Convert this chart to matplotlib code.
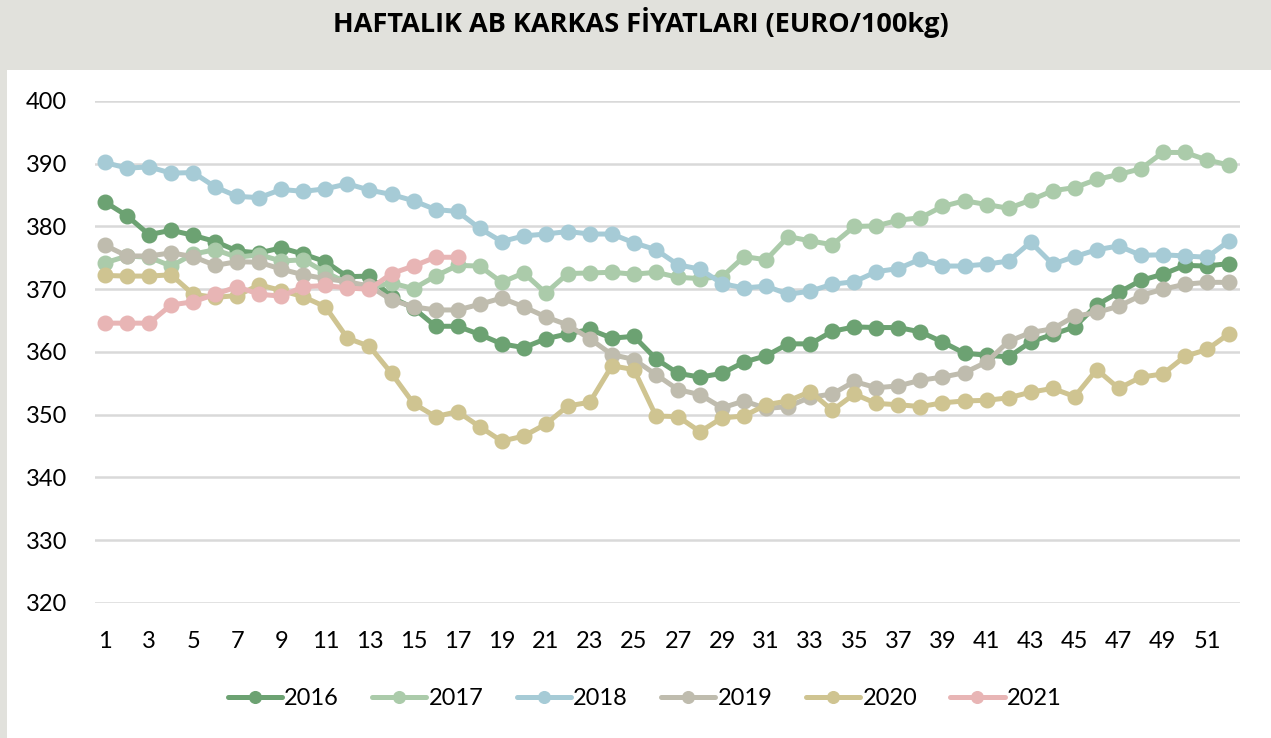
import matplotlib.pyplot as plt
from matplotlib.patches import Rectangle

weeks = list(range(1, 53))

y2016 = [383.9, 381.7, 378.7, 379.4, 378.6, 377.6, 376.1, 375.8, 376.6, 375.6,
         374.4, 372.0, 372.1, 368.7, 367.0, 364.1, 364.1, 362.8, 361.3, 360.7,
         362.1, 362.9, 363.6, 362.2, 362.5, 358.9, 356.6, 356.0, 356.6, 358.4,
         359.4, 361.3, 361.3, 363.3, 364.0, 363.9, 363.9, 363.2, 361.6, 359.8,
         359.5, 359.2, 361.6, 362.8, 364.0, 367.5, 369.5, 371.4, 372.4, 373.8,
         373.7, 374.1]
y2017 = [374.2, 375.3, 375.1, 373.7, 375.6, 376.3, 375.1, 375.5, 374.5, 374.7,
         372.7, 371.0, 370.3, 371.0, 370.1, 372.1, 373.8, 373.7, 371.1, 372.6,
         369.4, 372.5, 372.6, 372.7, 372.4, 372.7, 371.9, 371.7, 372.0, 375.2,
         374.7, 378.4, 377.7, 377.1, 380.0, 380.1, 381.0, 381.4, 383.2, 384.1,
         383.5, 382.9, 384.2, 385.7, 386.2, 387.5, 388.3, 389.2, 391.8, 391.8,
         390.6, 389.8]
y2018 = [390.2, 389.3, 389.5, 388.5, 388.6, 386.3, 384.8, 384.6, 385.9, 385.6,
         386.0, 386.8, 385.8, 385.1, 384.1, 382.7, 382.4, 379.7, 377.6, 378.5,
         378.8, 379.2, 378.8, 378.8, 377.4, 376.3, 373.9, 373.2, 370.9, 370.2,
         370.5, 369.2, 369.7, 370.8, 371.2, 372.8, 373.3, 374.8, 373.7, 373.7,
         374.0, 374.5, 377.5, 374.0, 375.2, 376.3, 376.9, 375.4, 375.5, 375.3,
         375.1, 377.7]
y2019 = [377.0, 375.3, 375.3, 375.8, 375.2, 373.8, 374.4, 374.3, 373.2, 372.3,
         371.7, 371.2, 370.5, 368.3, 367.2, 366.7, 366.7, 367.6, 368.6, 367.2,
         365.6, 364.3, 362.1, 359.6, 358.8, 356.4, 354.0, 353.2, 351.1, 352.2,
         351.0, 351.3, 352.8, 353.3, 355.3, 354.3, 354.6, 355.5, 356.0, 356.7,
         358.4, 361.7, 363.1, 363.7, 365.7, 366.3, 367.3, 369.0, 370.0, 370.8,
         371.1, 371.1]
y2020 = [372.2, 372.1, 372.1, 372.3, 369.2, 368.7, 369.0, 370.7, 369.8, 368.8,
         367.2, 362.2, 360.9, 356.6, 351.8, 349.7, 350.5, 348.1, 345.8, 346.6,
         348.5, 351.4, 352.0, 357.8, 357.2, 349.8, 349.7, 347.3, 349.5, 349.8,
         351.6, 352.2, 353.7, 350.7, 353.3, 351.8, 351.6, 351.3, 351.9, 352.2,
         352.3, 352.7, 353.6, 354.2, 352.9, 357.2, 354.2, 356.0, 356.5, 359.3,
         360.4, 362.9]
y2021 = [364.6, 364.6, 364.6, 367.5, 368.0, 369.2, 370.4, 369.2, 368.9, 370.4,
         370.6, 370.2, 370.0, 372.5, 373.7, 375.1, 375.1]

series = [
    ("2016", y2016, "#6ca272"),
    ("2017", y2017, "#abcbaa"),
    ("2018", y2018, "#a6cbd6"),
    ("2019", y2019, "#bfbcae"),
    ("2020", y2020, "#cfc491"),
    ("2021", y2021, "#e8b5b5"),
]

plt.rcParams['font.family'] = ['Lato', 'DejaVu Sans']

fig = plt.figure(figsize=(12.71, 7.38), dpi=100)
fig.patch.set_facecolor("#e1e1dc")
# white chart panel below the title band
fig.add_artist(Rectangle((7 / 1271, 0), 1 - 7 / 1271, 1 - 70 / 738,
                         transform=fig.transFigure, facecolor="white",
                         edgecolor="none", zorder=0))

fig.text(0.504, 1 - 22 / 738, "HAFTALIK AB KARKAS FİYATLARI (EURO/100kg)",
         ha="center", va="center", fontsize=19.5, fontweight="bold",
         family=["Open Sans", "DejaVu Sans"])

ax = fig.add_axes([95 / 1271, 1 - 603 / 738, 1145 / 1271, 502 / 738])
ax.set_facecolor("none")

for name, vals, color in series:
    ax.plot(weeks[:len(vals)], vals, color=color, lw=3.6, marker="o",
            markersize=10.5, label=name, solid_capstyle="round")

ax.set_xlim(1 - 10 / 22.04, 52 + 11 / 22.04)
ax.set_ylim(320, 400)
ax.set_yticks(range(320, 401, 10))
ax.set_xticks(weeks[::2])
ax.grid(axis="y", color="#d9d9d9", lw=1.8)
ax.set_axisbelow(True)
for s in ax.spines.values():
    s.set_visible(False)
ax.tick_params(axis="both", length=0, labelsize=17, colors="black")
ax.tick_params(axis="y", pad=20)
ax.tick_params(axis="x", pad=20.5)

ax.legend(loc="center", bbox_to_anchor=(0.48, -0.19), ncol=6, frameon=False,
          fontsize=17, handlelength=2.3, handletextpad=0.1, columnspacing=1.4,
          markerscale=0.8)

fig.savefig("out.png", dpi=100, facecolor=fig.get_facecolor())
